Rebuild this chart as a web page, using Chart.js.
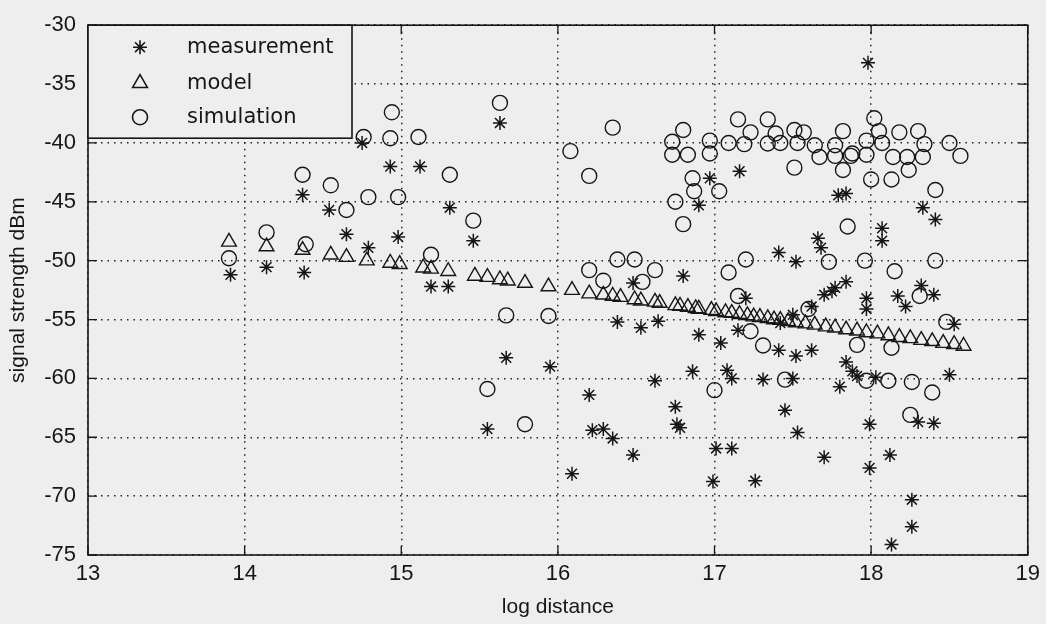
<!DOCTYPE html>
<html>
<head>
<meta charset="utf-8">
<script src="https://cdn.jsdelivr.net/npm/chart.js@4.4.0/dist/chart.umd.min.js"></script>
<style>
  html, body { margin: 0; padding: 0; background: #eeeeee; }
  #wrap { width: 1046px; height: 624px; }
</style>
</head>
<body>
<div id="wrap"><canvas id="chart" width="1046" height="624"></canvas></div>
<script>
// measurement (asterisks)
const measX = [13.91, 14.14, 14.37, 14.38, 14.54, 14.65, 14.75, 14.79, 14.93, 14.98, 15.12, 15.19, 15.30, 15.31, 15.46,
  15.55, 15.63, 15.67, 15.95, 16.09, 16.20, 16.22, 16.29, 16.35, 16.38, 16.48, 16.48, 16.53, 16.62, 16.64,
  16.75, 16.76, 16.78, 16.80, 16.86, 16.90, 16.90, 16.97, 16.99, 17.01, 17.04, 17.08, 17.11, 17.11, 17.15,
  17.16, 17.20, 17.26, 17.31, 17.41, 17.41, 17.42, 17.45, 17.50, 17.50, 17.52, 17.52, 17.53, 17.62, 17.62,
  17.66, 17.68, 17.70, 17.70, 17.75, 17.77, 17.79, 17.80, 17.84, 17.84, 17.84, 17.88, 17.91, 17.97, 17.97,
  17.98, 17.99, 17.99, 18.03, 18.07, 18.07, 18.12, 18.13, 18.17, 18.22, 18.26, 18.26, 18.30, 18.32, 18.33,
  18.40, 18.40, 18.41, 18.50, 18.53];
const measY = [-51.2, -50.55, -44.4, -51.0, -45.7, -47.75, -40.0, -48.9, -42.0, -48.0, -42.0, -52.2, -52.2, -45.5, -48.3,
  -64.3, -38.3, -58.25, -59.0, -68.1, -61.4, -64.4, -64.3, -65.1, -55.2, -51.9, -66.5, -55.7, -60.2, -55.15,
  -62.4, -63.9, -64.2, -51.3, -59.4, -45.3, -56.3, -43.0, -68.75, -65.95, -57.0, -59.3, -60.0, -65.95, -55.9,
  -42.4, -53.2, -68.7, -60.1, -49.3, -57.6, -55.3, -62.7, -54.6, -60.0, -50.1, -58.1, -64.6, -53.9, -57.6,
  -48.1, -48.9, -52.9, -66.7, -52.6, -52.3, -44.45, -60.7, -44.3, -51.8, -58.6, -59.4, -59.8, -53.2, -54.1,
  -33.2, -63.9, -67.6, -59.9, -47.25, -48.3, -66.5, -74.1, -53.0, -53.9, -70.3, -72.6, -63.7, -52.1, -45.5,
  -52.9, -63.8, -46.5, -59.7, -55.4];

// model (triangles)
const modelX = [13.90, 14.14, 14.37, 14.55, 14.65, 14.78, 14.93, 14.99, 15.14, 15.19, 15.30, 15.47, 15.55, 15.63, 15.68,
  15.79, 15.94, 16.09, 16.20, 16.29, 16.35, 16.40, 16.49, 16.53, 16.62, 16.65, 16.75, 16.78, 16.83, 16.88,
  16.90, 16.98, 17.01, 17.07, 17.11, 17.16, 17.21, 17.25, 17.29, 17.34, 17.38, 17.42, 17.47, 17.52, 17.58,
  17.64, 17.71, 17.77, 17.84, 17.91, 17.97, 18.04, 18.11, 18.18, 18.25, 18.32, 18.39, 18.46, 18.53, 18.59];
const modelY = [-48.4, -48.8, -49.1, -49.5, -49.7, -50.0, -50.2, -50.3, -50.6, -50.7, -50.9, -51.3, -51.4, -51.6, -51.7,
  -51.9, -52.2, -52.5, -52.8, -52.9, -53.0, -53.1, -53.3, -53.4, -53.5, -53.6, -53.8, -53.85, -53.95, -54.05,
  -54.1, -54.2, -54.3, -54.4, -54.45, -54.55, -54.65, -54.75, -54.8, -54.9, -55.0, -55.05, -55.15, -55.25, -55.35,
  -55.45, -55.6, -55.7, -55.85, -55.95, -56.1, -56.2, -56.35, -56.5, -56.6, -56.75, -56.85, -57.0, -57.1, -57.25];

// simulation (circles)
const simX = [13.90, 14.14, 14.37, 14.39, 14.55, 14.65, 14.76, 14.79, 14.93, 14.94, 14.98, 15.11, 15.19, 15.31, 15.46,
  15.55, 15.63, 15.67, 15.79, 15.94, 16.08, 16.20, 16.20, 16.29, 16.35, 16.38, 16.49, 16.54, 16.62, 16.73,
  16.73, 16.75, 16.80, 16.80, 16.83, 16.86, 16.87, 16.97, 16.97, 17.00, 17.03, 17.09, 17.09, 17.15, 17.15,
  17.19, 17.20, 17.23, 17.23, 17.31, 17.34, 17.34, 17.39, 17.42, 17.45, 17.51, 17.51, 17.53, 17.57, 17.60,
  17.64, 17.67, 17.73, 17.77, 17.77, 17.82, 17.82, 17.85, 17.87, 17.88, 17.91, 17.96, 17.97, 17.97, 17.97,
  18.00, 18.02, 18.05, 18.07, 18.11, 18.13, 18.13, 18.14, 18.15, 18.18, 18.23, 18.24, 18.25, 18.26, 18.30,
  18.31, 18.33, 18.34, 18.39, 18.41, 18.41, 18.48, 18.50, 18.57];
const simY = [-49.8, -47.6, -42.7, -48.6, -43.6, -45.7, -39.5, -44.6, -39.6, -37.4, -44.6, -39.5, -49.5, -42.7, -46.6,
  -60.9, -36.6, -54.65, -63.9, -54.7, -40.7, -42.8, -50.8, -51.7, -38.7, -49.9, -49.9, -51.8, -50.8, -39.9,
  -41.0, -45.0, -38.9, -46.9, -41.0, -43.0, -44.1, -39.8, -40.9, -61.0, -44.1, -40.0, -51.0, -38.0, -53.0,
  -40.1, -49.9, -39.1, -56.0, -57.2, -38.0, -40.05, -39.2, -40.0, -60.1, -38.9, -42.1, -40.0, -39.1, -54.1,
  -40.2, -41.2, -50.1, -40.2, -41.1, -39.0, -42.3, -47.1, -41.1, -40.9, -57.15, -50.0, -39.8, -41.0, -60.2,
  -43.1, -37.9, -39.0, -40.0, -60.2, -43.1, -57.4, -41.2, -50.9, -39.1, -41.2, -42.3, -63.1, -60.3, -39.0,
  -53.0, -41.2, -40.1, -61.2, -44.0, -50.0, -55.2, -40.0, -41.1];

const seriesLabels = ['measurement', 'model', 'simulation'];

const ink = '#161616';
const paper = '#eeeeee';
const tickFont = { family: "'Liberation Sans', Arial, sans-serif", size: 22 };

function pts(xs, ys) {
    return xs.map((x, i) => ({ x: x, y: ys[i] }));
}

function marker(label, data, style, r, w) {
    return {
        label: label, data: data, showLine: false,
        pointStyle: style, pointRadius: r, pointHoverRadius: r,
        pointBorderWidth: w, borderColor: ink, backgroundColor: 'rgba(0,0,0,0)'
    };
}

// box, inward ticks and the legend drawn over the plot, matlab style
const framePlugin = {
    id: 'frame',
    beforeDraw(chart) {
        const ctx = chart.ctx;
        ctx.save();
        ctx.fillStyle = paper;
        ctx.fillRect(0, 0, chart.width, chart.height);
        ctx.restore();
    },
    afterDraw(chart) {
        const { ctx, chartArea: a, scales } = chart;
        ctx.save();
        ctx.strokeStyle = ink;
        ctx.lineWidth = 1.6;
        ctx.strokeRect(a.left, a.top, a.width, a.height);

        ctx.lineWidth = 1.3;
        ctx.beginPath();
        scales.y.ticks.forEach(t => {
            const py = scales.y.getPixelForValue(t.value);
            ctx.moveTo(a.left, py); ctx.lineTo(a.left + 9, py);
            ctx.moveTo(a.right, py); ctx.lineTo(a.right - 9, py);
        });
        scales.x.ticks.forEach(t => {
            const px = scales.x.getPixelForValue(t.value);
            ctx.moveTo(px, a.bottom); ctx.lineTo(px, a.bottom - 9);
            ctx.moveTo(px, a.top); ctx.lineTo(px, a.top + 9);
        });
        ctx.stroke();

        // legend
        const bw = 264, bh = 113;
        ctx.fillStyle = paper;
        ctx.fillRect(a.left, a.top, bw, bh);
        ctx.lineWidth = 1.6;
        ctx.strokeRect(a.left, a.top, bw, bh);
        const rows = [22, 58, 92];
        ctx.font = "21px 'DejaVu Sans', sans-serif";
        ctx.textBaseline = 'middle';
        chart.data.datasets.forEach((ds, i) => {
            const cy = a.top + rows[i];
            ctx.strokeStyle = ink;
            ctx.fillStyle = 'rgba(0,0,0,0)';
            Chart.helpers.drawPoint(ctx, { pointStyle: ds.pointStyle, radius: ds.pointRadius, borderWidth: ds.pointBorderWidth, rotation: 0 }, a.left + 52, cy);
            ctx.fillStyle = ink;
            ctx.fillText(ds.label, a.left + 99, cy);
        });
        ctx.restore();
    }
};

new Chart(document.getElementById('chart'), {
    type: 'scatter',
    data: {
        datasets: [
            marker(seriesLabels[0], pts(measX, measY), 'star', 7, 1.5),
            marker(seriesLabels[1], pts(modelX, modelY), 'triangle', 8.5, 1.4),
            marker(seriesLabels[2], pts(simX, simY), 'circle', 7.5, 1.4)
        ]
    },
    options: {
        responsive: false, animation: false, devicePixelRatio: 1,
        layout: { padding: { top: 16, right: 16, left: 6, bottom: 4 } },
        plugins: { legend: { display: false }, tooltip: { enabled: false } },
        scales: {
            x: {
                type: 'linear', min: 13, max: 19,
                ticks: { stepSize: 1, color: ink, font: tickFont, padding: 6, maxRotation: 0 },
                grid: { color: '#222222', lineWidth: 1.5, drawTicks: false },
                border: { display: false, dash: [1.5, 5] },
                title: { display: true, text: 'log distance', color: ink, font: { family: tickFont.family, size: 21 }, padding: { top: 2, bottom: 0 } },
                afterFit(scale) { scale.height = 65; }
            },
            y: {
                type: 'linear', min: -75, max: -30,
                ticks: { stepSize: 5, color: ink, font: tickFont, padding: 12 },
                grid: { color: '#222222', lineWidth: 1.5, drawTicks: false },
                border: { display: false, dash: [1.5, 5] },
                title: { display: true, text: 'signal strength dBm', color: ink, font: { family: tickFont.family, size: 21 }, padding: { top: 0, bottom: 0 } },
                afterFit(scale) { scale.width = 82; }
            }
        }
    },
    plugins: [framePlugin]
});
</script>
</body>
</html>
